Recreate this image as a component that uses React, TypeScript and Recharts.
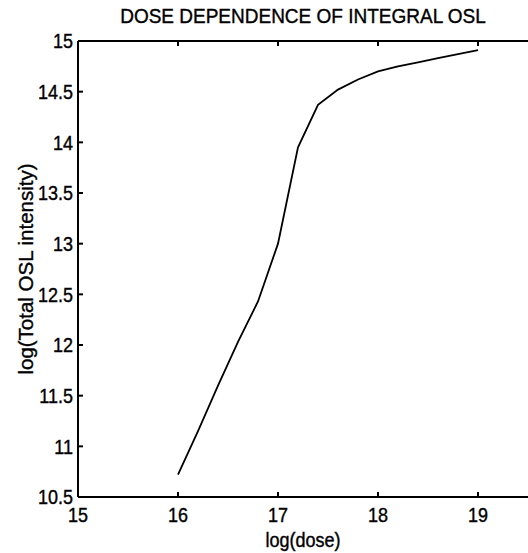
import React from "react";
import { LineChart, Line, XAxis, YAxis, Label } from "recharts";

// log(dose) sample positions and log(total OSL intensity)
const LOG_DOSE = [16, 16.2, 16.4, 16.6, 16.8, 17, 17.2, 17.4, 17.6, 17.8, 18, 18.2, 18.4, 18.6, 18.8, 19];
const LOG_OSL = [10.72, 11.15, 11.6, 12.03, 12.43, 13.0, 13.95, 14.37, 14.52, 14.62, 14.7, 14.75, 14.79, 14.83, 14.87, 14.91];

const X_TICKS = [15, 16, 17, 18, 19];
const Y_TICKS = [10.5, 11, 11.5, 12, 12.5, 13, 13.5, 14, 14.5, 15];

const TITLE = "DOSE DEPENDENCE OF INTEGRAL OSL";
const X_LABEL = "log(dose)";
const Y_LABEL = "log(Total OSL intensity)";

const data = LOG_DOSE.map((x, i) => ({ x, y: LOG_OSL[i] }));

const FONT = "'Liberation Sans', Arial, sans-serif";
// the scanned lettering is a bit taller than it is wide
const STRETCH = 1.15;

const textProps = {
  fontSize: 18,
  fontFamily: FONT,
  fill: "#000",
  stroke: "#000",
  strokeWidth: 0.35,
};

const stretchAt = (x: number, y: number) =>
  `translate(${x} ${y}) scale(1 ${STRETCH}) translate(${-x} ${-y})`;

function YTick({ x, y, payload }: any) {
  return (
    <text x={x} y={y} dy="0.355em" textAnchor="end" transform={stretchAt(x, y)} {...textProps}>
      {payload.value}
    </text>
  );
}

function XTick({ x, y, payload }: any) {
  return (
    <text x={x} y={y} dy="0.71em" textAnchor="middle" transform={stretchAt(x, y)} {...textProps}>
      {payload.value}
    </text>
  );
}

export default function App() {
  return (
    <div style={{ position: "absolute", left: 0, top: 0, width: 528, height: 553, background: "#fff", fontFamily: FONT }}>
      <div
        style={{
          position: "absolute",
          top: 6,
          left: 78,
          width: 450,
          textAlign: "center",
          fontSize: 19,
          lineHeight: "19px",
          color: "#000",
          transform: "scaleY(1.1)",
          WebkitTextStroke: "0.35px #000",
        }}
      >
        {TITLE}
      </div>
      <LineChart width={528} height={553} data={data} margin={{ top: 11, right: 0, bottom: 26, left: 18 }}>
        <XAxis
          xAxisId="top"
          orientation="top"
          type="number"
          dataKey="x"
          domain={[15, 19.5]}
          ticks={X_TICKS}
          allowDataOverflow
          height={30}
          stroke="#000"
          strokeWidth={2}
          tickSize={-5}
          tick={() => <g />}
        />
        <XAxis
          type="number"
          dataKey="x"
          domain={[15, 19.5]}
          ticks={X_TICKS}
          allowDataOverflow
          height={30}
          stroke="#000"
          strokeWidth={2}
          tickSize={-5}
          tickMargin={15}
          tick={<XTick />}
        >
          <Label
            content={({ viewBox }: any) => {
              const cx = viewBox.x + viewBox.width / 2;
              const cy = viewBox.y + 50;
              return (
                <text x={cx} y={cy} textAnchor="middle" transform={stretchAt(cx, cy)} {...textProps}>
                  {X_LABEL}
                </text>
              );
            }}
          />
        </XAxis>
        <YAxis
          type="number"
          domain={[10.5, 15]}
          ticks={Y_TICKS}
          allowDataOverflow
          width={60}
          stroke="#000"
          strokeWidth={2}
          tickSize={-5}
          tickMargin={10}
          tick={<YTick />}
        >
          <Label
            content={({ viewBox }: any) => {
              const cx = viewBox.x + 15;
              const cy = viewBox.y + viewBox.height / 2;
              return (
                <text
                  x={cx}
                  y={cy}
                  transform={`rotate(-90 ${cx} ${cy})`}
                  textAnchor="middle"
                  {...textProps}
                  fontSize={20.5}
                >
                  {Y_LABEL}
                </text>
              );
            }}
          />
        </YAxis>
        <Line
          type="linear"
          dataKey="y"
          stroke="#000"
          strokeWidth={1.8}
          dot={false}
          isAnimationActive={false}
        />
      </LineChart>
    </div>
  );
}
